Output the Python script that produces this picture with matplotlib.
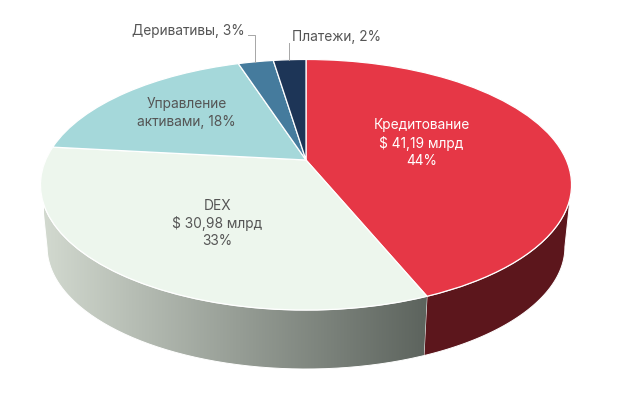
import numpy as np
import matplotlib
matplotlib.use("Agg")
import matplotlib.pyplot as plt
from matplotlib.colors import LinearSegmentedColormap
from matplotlib.transforms import Transform
from matplotlib.path import Path
from matplotlib.patches import PathPatch

categories = ["Кредитование", "DEX", "Управление активами", "Деривативы", "Платежи"]
values = [41.19, 30.98, 17.17, 2.445, 2.257]
top_colors = ["#e63746", "#edf6ed", "#a5d8da", "#457b9d", "#1d3557"]
side_color = "#5c161c"

plt.rcParams["font.family"] = ["Inter", "DejaVu Sans"]
TXT = "#555555"
FS = 9.9

# projection of the pie plane to figure pixels
K = 0.1976
def project(u, v, cx=306.0, cy=160.0, a=260.3, b=120.4):
    w = 1 + K * v
    return cx + a * u / w, cy - b * v / w

def project_low(u, v):
    return project(u, v, cx=306.0, cy=222.7, a=253.8, b=117.4)

class Perspective(Transform):
    input_dims = 2
    output_dims = 2
    is_affine = False
    has_inverse = False
    def transform_non_affine(self, values):
        values = np.asarray(values, dtype=float)
        x, y = project(values[:, 0], values[:, 1])
        return np.column_stack([x, y])

fig = plt.figure(figsize=(6.19, 3.96), dpi=100, facecolor="white")
ax = fig.add_axes([0, 0, 1, 1])

wedges, _ = ax.pie(values, colors=top_colors, startangle=90, counterclock=False,
                   wedgeprops=dict(transform=Perspective() + ax.transData,
                                   edgecolor="white", linewidth=0.9, zorder=3))

# outer wall of the two front slices, from silhouette to silhouette
fractions = np.cumsum([0] + values) / np.sum(values)
tangent = np.arccos(-K) / (2 * np.pi)

def wall_range(f0, f1):
    ang = np.linspace(f0, f1, 200) * 2 * np.pi
    u, v = np.sin(ang), np.cos(ang)
    tx, ty = project(u, v)
    bx, by = project_low(u, v)
    return np.r_[tx, bx[::-1]], np.r_[ty, by[::-1]]

wx, wy = wall_range(tangent, fractions[1])
ax.fill(wx, wy, color=side_color, ec="white", lw=0.7, zorder=1)

dx, dy = wall_range(fractions[1], 1 - tangent)
grad = LinearSegmentedColormap.from_list("g", ["#d2d9cf", "#5b625c"])
im = ax.imshow(np.linspace(0, 1, 256)[None, :], cmap=grad, aspect="auto",
               extent=(44, 432, 372, 180), zorder=1)
clip = PathPatch(Path(np.column_stack([dx, dy])), transform=ax.transData,
                 fc="none", ec="white", lw=0.7, zorder=2)
ax.add_patch(clip)
im.set_clip_path(clip)

ax.set_aspect("auto")
ax.set_xlim(0, 619)
ax.set_ylim(396, 0)
ax.axis("off")

# leaders
ax.plot([248, 255, 255], [35, 35, 61.5], color="#a6a6a6", lw=0.7, zorder=4)
ax.plot([289, 289], [43, 60], color="#a6a6a6", lw=0.7, zorder=4)

kw = dict(ha="center", va="center", fontsize=FS, linespacing=1.3, zorder=5)
ax.text(421.5, 143, "Кредитование\n$ 41,19 млрд\n44%", color="white", **kw)
ax.text(217.5, 223.5, "DEX\n$ 30,98 млрд\n33%", color=TXT, **kw)
ax.text(186.5, 113, "Управление\nактивами, 18%", color=TXT, **kw)
ax.text(245, 31, "Деривативы, 3%", color=TXT, ha="right", va="center", fontsize=FS, zorder=5)
ax.text(292, 37, "Платежи, 2%", color=TXT, ha="left", va="center", fontsize=FS, zorder=5)

fig.savefig("out.png", dpi=100)
